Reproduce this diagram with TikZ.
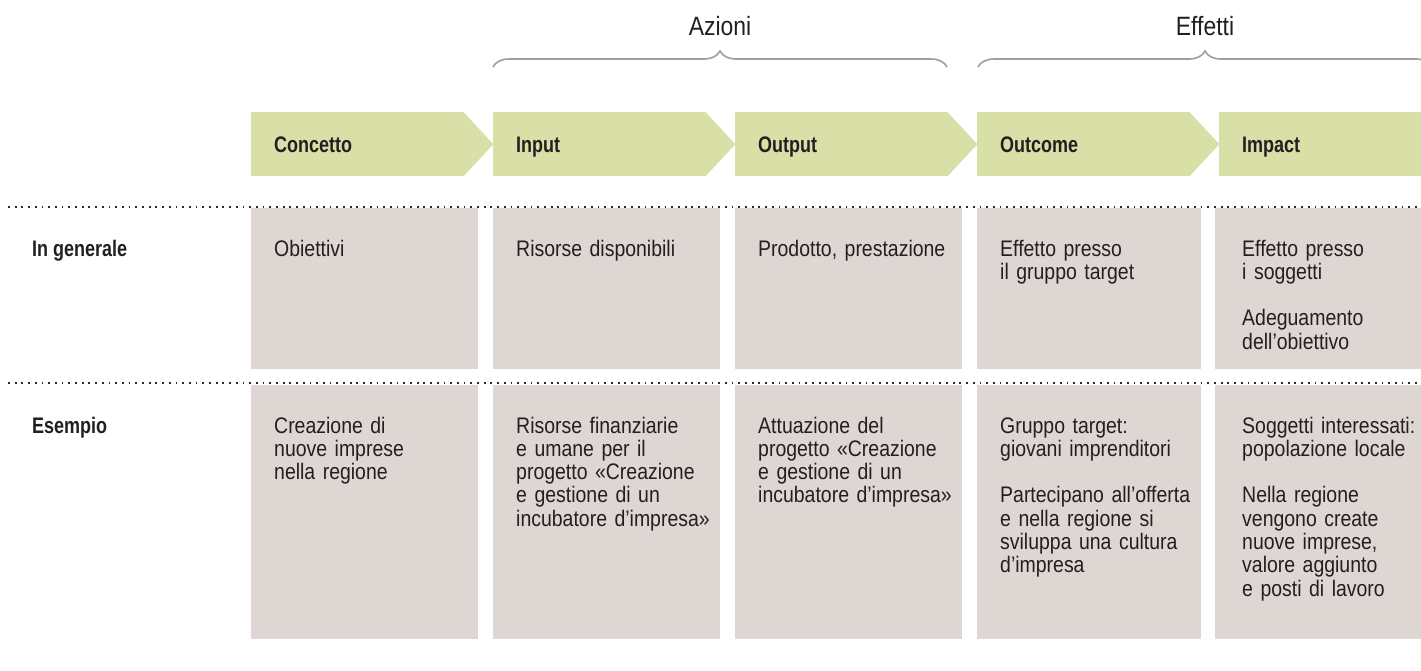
\documentclass[tikz,border=0pt]{standalone}
\usepackage{fontspec}
\setmainfont[FakeStretch=0.865]{Liberation Sans}
\newfontfamily\headfont[FakeStretch=0.80]{Liberation Sans}
\usetikzlibrary{decorations.pathreplacing}
\definecolor{stagegreen}{RGB}{216,224,168}
\definecolor{cellgray}{RGB}{221,214,211}
\definecolor{bracebrown}{RGB}{168,156,148}
\definecolor{dotgray}{RGB}{45,42,42}
\definecolor{inkdark}{RGB}{35,31,32}
\begin{document}
\begin{tikzpicture}[
    x=1pt, y=-1pt,
    every node/.style={text=inkdark, inner sep=0pt},
    stage/.style={fill=stagegreen, anchor=north west, minimum height=64pt, text width=166pt,
      inner xsep=23pt, inner ysep=0pt, align=left, text height=16.3pt, text depth=0pt,
      font=\headfont\bfseries\fontsize{22.5}{23.3}\selectfont},
    tip/.style={fill=stagegreen},
    cell/.style={fill=cellgray, anchor=north west},
    celltext/.style={anchor=base west, text width=200pt, align=left, font=\fontsize{22.5}{23.3}\selectfont},
    rowlabel/.style={anchor=base west, font=\headfont\bfseries\fontsize{22.5}{23.3}\selectfont},
    group/.style={anchor=base, font=\fontsize{26.5}{28}\selectfont},
    bracket/.style={draw=bracebrown, line width=1.6pt, decorate, decoration={brace, amplitude=16pt}},
    dotline/.style={draw=dotgray, line width=1.8pt, dash pattern=on 1.8pt off 4.9pt}
  ]
  \useasboundingbox (0,0) rectangle (1421,670);

  \node[group] (azioni) at (720,35) {Azioni};
  \node[group] (effetti) at (1205,35) {Effetti};
  \coordinate (azl) at (493,67);
  \coordinate (azr) at (947,67);
  \coordinate (efl) at (978,67);
  \coordinate (efr) at (1432,67);
  \draw[bracket] (azl) -- (azr);
  \draw[bracket] (efl) -- (efr);

  \node[stage] (concetto) at (251,112) {Concetto};
  \node[stage] (input) at (493,112) {Input};
  \node[stage] (output) at (735,112) {Output};
  \node[stage] (outcome) at (977,112) {Outcome};
  \node[stage, text width=156pt] (impact) at (1219,112) {Impact};
  \fill[tip] ([xshift=-1pt]concetto.north east) -- (concetto.north east) -- ([xshift=30pt]concetto.east) -- (concetto.south east) -- ([xshift=-1pt]concetto.south east) -- cycle;
  \fill[tip] ([xshift=-1pt]input.north east) -- (input.north east) -- ([xshift=30pt]input.east) -- (input.south east) -- ([xshift=-1pt]input.south east) -- cycle;
  \fill[tip] ([xshift=-1pt]output.north east) -- (output.north east) -- ([xshift=30pt]output.east) -- (output.south east) -- ([xshift=-1pt]output.south east) -- cycle;
  \fill[tip] ([xshift=-1pt]outcome.north east) -- (outcome.north east) -- ([xshift=30pt]outcome.east) -- (outcome.south east) -- ([xshift=-1pt]outcome.south east) -- cycle;

  \node[cell, minimum width=227pt, minimum height=161pt] (gen1) at (251,208) {};
  \node[cell, minimum width=227pt, minimum height=161pt] (gen2) at (493,208) {};
  \node[cell, minimum width=227pt, minimum height=161pt] (gen3) at (735,208) {};
  \node[cell, minimum width=224pt, minimum height=161pt] (gen4) at (977,208) {};
  \node[cell, minimum width=206pt, minimum height=161pt] (gen5) at (1215,208) {};
  \node[cell, minimum width=227pt, minimum height=254pt] (es1) at (251,385) {};
  \node[cell, minimum width=227pt, minimum height=254pt] (es2) at (493,385) {};
  \node[cell, minimum width=227pt, minimum height=254pt] (es3) at (735,385) {};
  \node[cell, minimum width=224pt, minimum height=254pt] (es4) at (977,385) {};
  \node[cell, minimum width=206pt, minimum height=254pt] (es5) at (1215,385) {};

  \coordinate (dotal) at (8,207);
  \coordinate (dotar) at (1421,207);
  \coordinate (dotbl) at (8,383);
  \coordinate (dotbr) at (1421,383);
  \draw[dotline] (dotal) -- (dotar);
  \draw[dotline] (dotbl) -- (dotbr);

  \node[rowlabel] (generale) at (32,256) {In generale};
  \node[rowlabel] (esempio) at (32,433) {Esempio};

  \node[celltext] (gentxt1) at (274,256) {Obiettivi};
  \node[celltext] (gentxt2) at (516,256) {Risorse disponibili};
  \node[celltext] (gentxt3) at (758,256) {Prodotto, prestazione};
  \node[celltext] (gentxt4) at (1000,256) {Effetto presso\\il gruppo target};
  \node[celltext] (gentxt5) at (1242,256) {Effetto presso\\i soggetti\\[23.3pt]Adeguamento\\dell’obiettivo};

  \node[celltext] (estxt1) at (274,433) {Creazione di\\nuove imprese\\nella regione};
  \node[celltext] (estxt2) at (516,433) {Risorse finanziarie\\e umane per il\\progetto «Creazione\\e gestione di un\\incubatore d’impresa»};
  \node[celltext] (estxt3) at (758,433) {Attuazione del\\progetto «Creazione\\e gestione di un\\incubatore d’impresa»};
  \node[celltext] (estxt4) at (1000,433) {Gruppo target:\\giovani imprenditori\\[23.3pt]Partecipano all’offerta\\e nella regione si\\sviluppa una cultura\\d’impresa};
  \node[celltext] (estxt5) at (1242,433) {Soggetti interessati:\\popolazione locale\\[23.3pt]Nella regione\\vengono create\\nuove imprese,\\valore aggiunto\\e posti di lavoro};
\end{tikzpicture}
\end{document}
